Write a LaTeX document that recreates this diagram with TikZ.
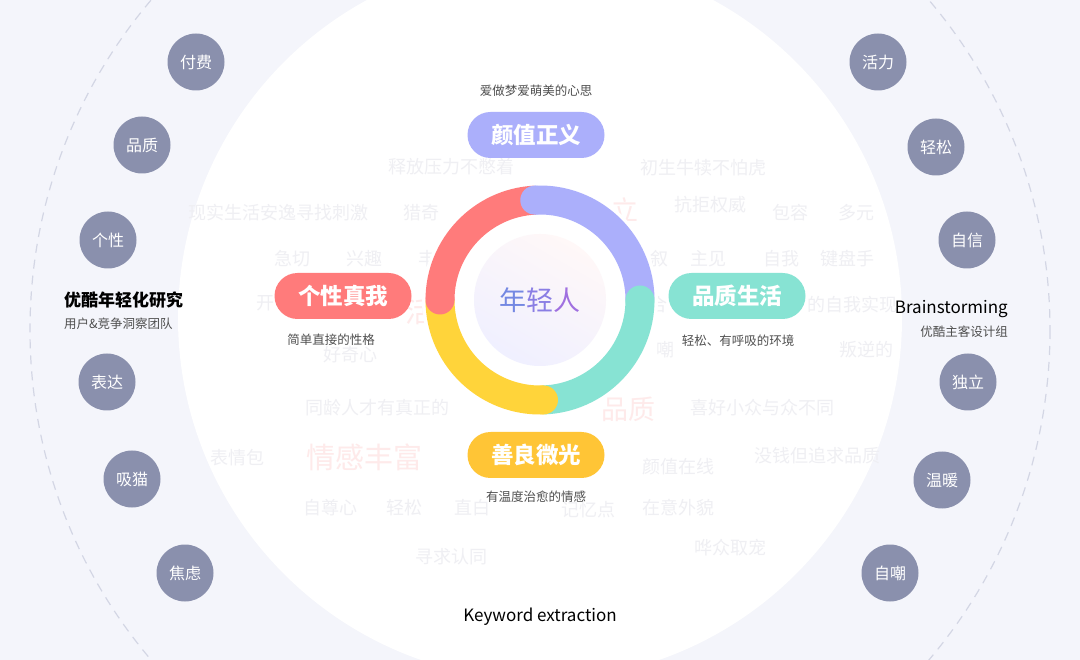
\documentclass[tikz,border=0pt]{standalone}
\usepackage{fontspec}
\setmainfont{Noto Sans CJK SC}
\newcommand{\fsz}[1]{\fontsize{#1}{#1}\selectfont}
\definecolor{bglav}{HTML}{F4F5FB}
\definecolor{dashc}{HTML}{D3D6E4}
\definecolor{dotc}{HTML}{8A90AD}
\definecolor{ringR}{HTML}{FF7B7B}
\definecolor{ringP}{HTML}{ABAFFB}
\definecolor{ringT}{HTML}{87E3D3}
\definecolor{ringY}{HTML}{FFD43A}
\definecolor{pillY}{HTML}{FFC536}
\definecolor{faint}{HTML}{EFEFF3}
\definecolor{faintpink}{HTML}{FEEAEA}
\definecolor{subg}{HTML}{4F4F4F}
\tikzset{
  pill/.style={rounded corners=23, minimum width=137, minimum height=46, text=white, font=\bfseries\fsz{22.5}, inner sep=0},
  subt/.style={text=subg, font=\fsz{12.5}, inner sep=0},
  dotn/.style={circle, fill=dotc, minimum size=57, text=white, font=\fsz{16}, inner sep=0},
  word/.style={text=faint, font=\fsz{18}, inner sep=0},
  pword/.style={text=faintpink, font=\fsz{29}, inner sep=0},
  ringseg/.style={line width=29}
}
\begin{document}
\begin{tikzpicture}[x=1pt,y=-1pt]
\useasboundingbox (0,0) rectangle (1080,660);
\fill[bglav] (0,0) rectangle (1080,660);
\coordinate (c) at (540,330);
\draw[dashc, line width=1.2, dash pattern=on 9 off 7] (c) circle[radius=510];
\coordinate (wc) at (540,318);
\fill[white] (wc) circle[radius=362];
% faint background words
\node[word] (w1) at (451,167) {释放压力不憋着};
\node[word] (w2) at (703,168) {初生牛犊不怕虎};
\node[word] (w3) at (278,213) {现实生活安逸寻找刺激};
\node[word] (w4) at (421,213) {猎奇};
\node[pword,font=\fsz{27}] (w5) at (625,210) {立};
\node[word] (w6) at (710,205) {抗拒权威};
\node[word] (w7) at (790,213) {包容};
\node[word] (w8) at (856,213) {多元};
\node[word] (w9) at (292,259) {急切};
\node[word] (w10) at (364,259) {兴趣};
\node[word] (w11) at (427,259) {丰};
\node[word] (w12) at (659,259) {叙};
\node[word] (w13) at (708,259) {主见};
\node[word] (w14) at (781,259) {自我};
\node[word] (w15) at (847,259) {键盘手};
\node[word] (w16) at (265,303) {开};
\node[pword] (w17) at (420,312) {活};
\node[word] (w18) at (658,305) {合};
\node[word] (w19) at (852,305) {的自我实现};
\node[word] (w20) at (350,355) {好奇心};
\node[word] (w21) at (665,350) {嘲};
\node[word] (w22) at (866,350) {叛逆的};
\node[word] (w23) at (377,408) {同龄人才有真正的};
\node[pword,font=\fsz{27}] (w24) at (628,409) {品质};
\node[word] (w25) at (762,408) {喜好小众与众不同};
\node[word] (w26) at (237,458) {表情包};
\node[pword] (w27) at (364,457) {情感丰富};
\node[word] (w28) at (678,467) {颜值在线};
\node[word] (w29) at (817,456) {没钱但追求品质};
\node[word] (w30) at (330,508) {自尊心};
\node[word] (w31) at (404,508) {轻松};
\node[word] (w32) at (472,508) {直白};
\node[word] (w33) at (588,510) {记忆点};
\node[word] (w34) at (678,508) {在意外貌};
\node[word] (w35) at (451,557) {寻求认同};
\node[word] (w36) at (730,548) {哗众取宠};
% ring
\coordinate (rc) at (540,300);
\fill[white] (rc) circle[radius=118];
\draw[ringseg, ringP] ([shift={(-93:100)}]rc) arc[start angle=-93, end angle=0, radius=100];
\draw[ringseg, ringT] ([shift={(0:100)}]rc) arc[start angle=0, end angle=88, radius=100];
\draw[ringseg, ringY] ([shift={(88:100)}]rc) arc[start angle=88, end angle=180, radius=100];
\draw[ringseg, ringR] ([shift={(180:100)}]rc) arc[start angle=180, end angle=267, radius=100];
\fill[ringP] ([shift={(-93:100)}]rc) circle[radius=14.5];
\fill[ringT] ([shift={(0:100)}]rc) circle[radius=14.5];
\fill[ringY] ([shift={(88:100)}]rc) circle[radius=14.5];
\fill[ringR] ([shift={(180:100)}]rc) circle[radius=14.5];
\shade[shading=axis, top color=white!55!pink!25, bottom color=blue!6, shading angle=-30] (rc) circle[radius=66];
\node[font=\fsz{27}, inner sep=0] (core) at (rc) {\textcolor[HTML]{7488E2}{年}\textcolor[HTML]{8A7EE4}{轻}\textcolor[HTML]{A070E0}{人}};
% pills
\node[pill, fill=ringP] (p1) at (536,135) {颜值正义};
\node[pill, fill=ringR] (p2) at (343,296) {个性真我};
\node[pill, fill=ringT] (p3) at (737,296) {品质生活};
\node[pill, fill=pillY] (p4) at (536,455) {善良微光};
\node[subt] (s1) at (536,91) {爱做梦爱萌美的心思};
\node[subt] (s2) at (331,340) {简单直接的性格};
\node[subt] (s3) at (738,341) {轻松、有呼吸的环境};
\node[subt] (s4) at (536,497) {有温度治愈的情感};
% side dots
\node[dotn] (l1) at (196,62) {付费};
\node[dotn] (l2) at (142,145) {品质};
\node[dotn] (l3) at (108,240) {个性};
\node[dotn] (l4) at (107,382) {表达};
\node[dotn] (l5) at (132,479) {吸猫};
\node[dotn] (l6) at (185,573) {焦虑};
\node[dotn] (r1) at (878,62) {活力};
\node[dotn] (r2) at (936,147) {轻松};
\node[dotn] (r3) at (967,240) {自信};
\node[dotn] (r4) at (968,382) {独立};
\node[dotn] (r5) at (942,480) {温暖};
\node[dotn] (r6) at (890,573) {自嘲};
% side labels
\node[anchor=west, font=\bfseries\fsz{17}, inner sep=0] (lt) at (64,300) {优酷年轻化研究};
\node[anchor=west, subt] (ls) at (64,324) {用户\&竞争洞察团队};
\node[anchor=east, font=\fsz{17}, inner sep=0] (rt) at (1008,309) {Brainstorming};
\node[anchor=east, subt] (rs) at (1008,332) {优酷主客设计组};
\node[font=\fsz{17}, inner sep=0] (kw) at (540,617) {Keyword extraction};
\end{tikzpicture}
\end{document}
